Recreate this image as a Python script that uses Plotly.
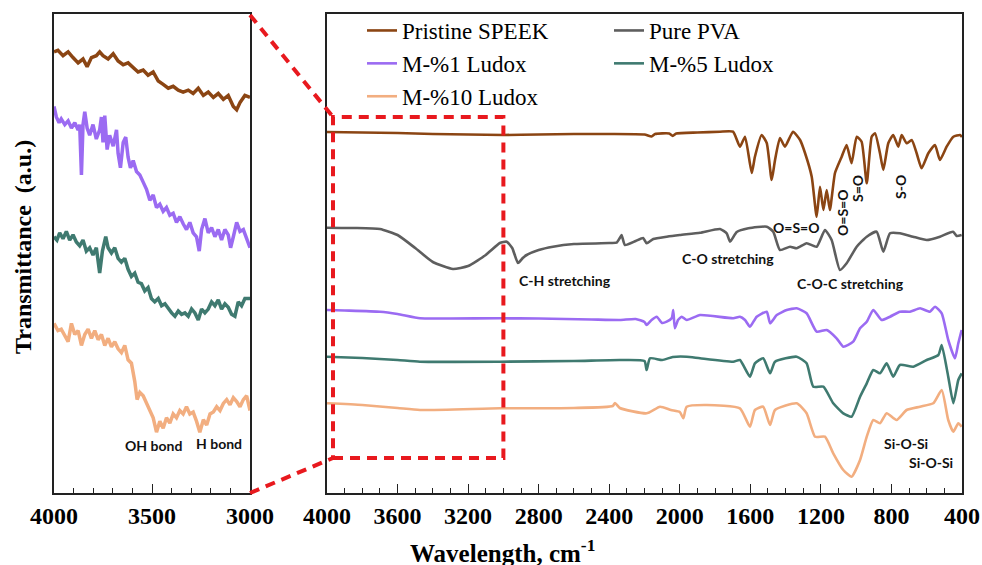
import plotly.graph_objects as go

# ---------------- data: full spectra (right panel), transmittance in a.u. ----------------
speek_wn = [4000, 3800, 3600, 3400, 3200, 3000, 2800, 2600, 2400, 2200, 2160, 2140, 2060, 2040, 2020, 1900,
            1772, 1698, 1659, 1630, 1592, 1574, 1536, 1507, 1479, 1460, 1432, 1404, 1358, 1318, 1290, 1252,
            1224, 1205, 1186, 1167, 1149, 1120, 1082, 1054, 1026, 997, 969, 940, 912, 893, 865, 846, 818,
            790, 761, 742, 714, 685, 657, 629, 591, 553, 525, 487, 449, 411, 400]
speek_t = [361, 360.5, 360, 359, 358.5, 358, 358.5, 359, 359, 358.5, 356.5, 359, 359.5, 357, 359.5, 360.5,
           361.3, 361.3, 346.3, 356.3, 320, 336.3, 358, 350, 313, 333, 355, 346.3, 361.3, 353, 340, 316.3,
           276.3, 306.3, 283, 303, 283, 320, 336.3, 348, 329.7, 356.3, 351.3, 309.7, 356.3, 359.7, 339.7, 323, 349.7,
           358, 346.3, 358, 349.7, 353, 339.7, 324.7, 339.7, 348, 333, 346.3, 356.3, 358, 356]

pva_wn = [4000, 3850, 3700, 3600, 3500, 3400, 3286, 3200, 3100, 3020, 2981, 2950, 2917, 2890, 2868, 2800,
          2719, 2600, 2400, 2358, 2340, 2330, 2311, 2250, 2208, 2188, 2150, 2074, 2000, 1885, 1772, 1734,
          1715, 1677, 1611, 1507, 1470, 1432, 1375, 1337, 1281, 1224, 1177, 1139, 1092, 1054, 997, 940,
          884, 846, 808, 752, 678, 600, 525, 451, 430, 402]
pva_t = [265.3, 265, 264, 258, 245, 231, 224, 227, 238, 250, 251.3, 245, 230, 235, 238, 243,
         246.3, 249, 250, 250.3, 255, 258, 248, 252, 255, 249.7, 254, 256.3, 258, 260.3, 264, 259.7,
         251.3, 261, 264.7, 266.3, 261.3, 243, 246.3, 244.7, 249.7, 246.3, 263, 253, 223, 229.7, 246.3, 256.3,
         261.3, 241.3, 259.7, 259.7, 256.3, 253, 256.3, 261.3, 257, 258]

m1_wn = [4000, 3900, 3700, 3600, 3473, 3300, 3020, 2800, 2500, 2339, 2250, 2200, 2188, 2160, 2131, 2100,
         2074, 2045, 2037, 2028, 2010, 1989, 1960, 1885, 1697, 1659, 1630, 1602, 1564, 1507, 1488, 1450,
         1394, 1337, 1281, 1224, 1167, 1111, 1073, 1017, 978, 940, 903, 856, 808, 752, 695, 638, 582,
         553, 515, 478, 440, 421, 402]
m1_t = [183, 182.5, 181.3, 179, 174.7, 174.5, 174.7, 174.5, 173.5, 173, 174, 171, 168, 173, 176.3, 170,
        171.3, 175, 183, 164.7, 173, 176.3, 173, 178, 174.7, 176.3, 173, 166.3, 176.3, 181.3, 169.7, 178,
        183, 184.7, 179.7, 161.3, 163, 154.7, 146.3, 151.3, 164.7, 171.3, 183, 173, 176.3, 181.3, 181.3, 184.7, 181.3,
        186.3, 179.7, 153, 134.7, 149.7, 163]

m5_wn = [4000, 3800, 3600, 3473, 3020, 2600, 2339, 2200, 2188, 2169, 2100, 2040, 1961, 1885, 1697, 1659,
         1602, 1574, 1527, 1488, 1460, 1337, 1281, 1243, 1186, 1130, 1073, 1026, 978, 940, 903, 865, 827,
         790, 752, 676, 600, 534, 515, 478, 449, 421, 402]
m5_t = [136.3, 135, 133, 131.3, 131.3, 132, 133, 132, 123, 134.7, 133, 136, 136.3, 134.7, 131.3, 133,
        116.3, 129.7, 134.7, 119.7, 131.3, 136.3, 129.7, 106.3, 106.3, 89.7, 79.7, 76.3, 96.3, 109.7, 123, 119.7, 129.7,
        116.3, 128, 126.3, 133, 138, 148, 116.3, 89.7, 113, 119.7]

m10_wn = [4000, 3800, 3600, 3473, 3020, 2600, 2380, 2367, 2340, 2188, 2112, 2050, 2000, 1980, 1961, 1847,
          1659, 1602, 1574, 1527, 1488, 1460, 1337, 1281, 1233, 1177, 1130, 1073, 1026, 978, 940, 903,
          865, 827, 771, 714, 638, 563, 515, 478, 449, 421, 402]
m10_t = [89.7, 88, 85, 83, 84.7, 85, 87, 90, 85, 79.7, 86.3, 83, 81, 74.7, 86.3, 88,
         84.7, 66.3, 83, 86.3, 68, 83, 89.7, 79.7, 56.3, 56.3, 39.7, 23, 16.3, 33, 56.3, 73,
         69.7, 79.7, 73, 83, 86.3, 89.7, 103, 73, 61.3, 69.7, 66.3]

# ---------------- data: magnified 4000-3000 region (left panel), a.u. ----------------
z_speek_wn = [4000, 3980, 3954, 3928, 3903, 3877, 3852, 3831, 3809, 3784, 3767, 3750, 3724, 3698, 3673, 3647,
              3622, 3596, 3571, 3545, 3520, 3494, 3468, 3443, 3417, 3392, 3366, 3341, 3315, 3290, 3264, 3238,
              3213, 3187, 3162, 3136, 3111, 3085, 3068, 3051, 3026, 3000]
z_speek_t = [92.1, 92.4, 91.3, 92.1, 90.9, 89.8, 90.6, 89.0, 90.9, 91.3, 92.1, 91.3, 90.6, 91.7, 90.2, 89.4,
             89.8, 88.7, 87.9, 88.3, 87.2, 87.9, 86.0, 85.3, 84.5, 84.9, 84.1, 83.7, 84.1, 83.4, 84.5, 83.0,
             83.7, 82.6, 83.4, 82.2, 83.0, 80.7, 80.0, 81.5, 83.0, 82.6]

z_m1_wn = [4000, 3988, 3974, 3963, 3945, 3928, 3911, 3894, 3877, 3869, 3860, 3852, 3843, 3831, 3818, 3801,
           3784, 3767, 3758, 3750, 3741, 3729, 3716, 3698, 3681, 3673, 3661, 3647, 3634, 3622, 3610, 3596,
           3579, 3562, 3545, 3528, 3511, 3494, 3477, 3460, 3443, 3426, 3409, 3392, 3375, 3358, 3341, 3324,
           3307, 3290, 3273, 3259, 3247, 3230, 3213, 3196, 3179, 3162, 3145, 3128, 3111, 3099, 3085, 3068,
           3051, 3034, 3017, 3000]
z_m1_t = [80.7, 78.5, 77.3, 78.1, 76.9, 77.7, 76.2, 77.3, 75.8, 76.9, 66.4, 76.9, 79.6, 76.2, 74.7, 76.9,
          73.9, 75.8, 78.5, 73.2, 78.8, 71.7, 74.7, 72.4, 75.8, 70.9, 67.9, 73.2, 74.3, 70.1, 67.9, 69.4,
          67.1, 66.4, 64.9, 63.4, 61.1, 62.2, 59.6, 60.3, 58.8, 59.6, 58.0, 58.4, 56.5, 57.7, 56.2, 55.0,
          56.5, 54.3, 53.5, 50.5, 55.0, 57.3, 54.3, 55.4, 53.5, 55.0, 52.8, 55.0, 53.9, 51.2, 53.5, 56.5,
          54.6, 55.0, 53.1, 51.2]

z_m5_wn = [4000, 3985, 3971, 3954, 3937, 3920, 3903, 3886, 3869, 3852, 3835, 3818, 3801, 3784, 3767, 3753,
           3736, 3724, 3707, 3690, 3673, 3656, 3639, 3622, 3605, 3588, 3571, 3554, 3537, 3520, 3503, 3486,
           3468, 3451, 3434, 3417, 3400, 3383, 3366, 3349, 3332, 3315, 3298, 3281, 3264, 3247, 3230, 3213,
           3196, 3179, 3162, 3145, 3128, 3111, 3094, 3077, 3060, 3043, 3026, 3000]
z_m5_t = [53.5, 52.8, 54.3, 53.1, 54.6, 52.8, 53.9, 52.4, 51.6, 52.8, 50.5, 51.2, 49.7, 51.2, 45.9, 50.5,
          53.5, 51.2, 50.1, 51.2, 49.0, 48.2, 49.0, 46.7, 45.2, 45.9, 44.0, 43.7, 42.2, 42.9, 40.6, 39.9,
          40.6, 39.1, 39.5, 38.4, 37.6, 36.9, 38.0, 37.3, 37.6, 36.9, 38.4, 37.6, 36.1, 38.4, 37.6, 38.4,
          39.9, 39.1, 40.3, 38.4, 39.5, 38.8, 37.3, 36.9, 39.9, 39.1, 40.6, 40.6]

z_m10_wn = [4000, 3980, 3963, 3945, 3928, 3911, 3894, 3877, 3860, 3843, 3826, 3809, 3792, 3775, 3758, 3741,
            3724, 3707, 3690, 3673, 3656, 3639, 3622, 3605, 3588, 3576, 3562, 3545, 3528, 3511, 3494, 3477,
            3460, 3443, 3426, 3409, 3392, 3375, 3358, 3341, 3324, 3307, 3290, 3273, 3256, 3238, 3221, 3204,
            3187, 3170, 3153, 3136, 3119, 3102, 3085, 3068, 3051, 3034, 3017, 3000]
z_m10_t = [35.4, 33.9, 34.2, 32.7, 31.6, 35.4, 33.1, 33.9, 30.8, 33.1, 34.2, 32.3, 33.9, 32.0, 33.1, 30.8,
           32.3, 30.5, 31.6, 30.1, 29.3, 30.8, 27.8, 27.1, 23.3, 19.5, 21.0, 20.3, 18.7, 17.2, 15.7, 12.7,
           15.0, 13.5, 15.7, 14.6, 16.5, 15.7, 17.2, 16.5, 18.0, 16.5, 16.9, 15.0, 12.7, 15.3, 14.2, 16.5,
           16.9, 18.0, 17.2, 18.7, 19.5, 18.4, 19.9, 19.1, 18.0, 19.5, 20.3, 17.2]

series_names = ["Pristine SPEEK", "Pure PVA", "M-%1 Ludox", "M-%5 Ludox", "M-%10 Ludox"]
colors = ["#8B4513", "#5E5E5E", "#9B6BF2", "#3F7A70", "#F2AE80"]
legend_ids = ["legend", "legend2", "legend", "legend2", "legend"]

W, H = 982, 565
def px(x):
    return x / W
def py(y):
    return 1 - y / H

fig = go.Figure()

right = [(speek_wn, speek_t), (pva_wn, pva_t), (m1_wn, m1_t), (m5_wn, m5_t), (m10_wn, m10_t)]
for (wn, t), name, c, lg in zip(right, series_names, colors, legend_ids):
    fig.add_trace(go.Scatter(x=wn, y=t, mode="lines", name=name,
                             line=dict(color=c, width=2.6, shape="spline", smoothing=0.5),
                             xaxis="x2", yaxis="y2", legend=lg))

left = [(z_speek_wn, z_speek_t, 0), (z_m1_wn, z_m1_t, 2), (z_m5_wn, z_m5_t, 3), (z_m10_wn, z_m10_t, 4)]
for wn, t, i in left:
    fig.add_trace(go.Scatter(x=wn, y=t, mode="lines", showlegend=False, line=dict(color=colors[i], width=3.5),
                             xaxis="x", yaxis="y"))

ydom = [py(493), py(14)]
tickfont = dict(family="Liberation Serif", size=24, color="black", weight="bold")
axline = dict(showline=True, mirror=True, linecolor="#222", linewidth=1.6, showgrid=False, zeroline=False,
              automargin=False)
legfont = dict(family="Liberation Serif", size=23, color="black")

fig.update_layout(
    width=W, height=H, margin=dict(l=0, r=0, t=0, b=0, autoexpand=False),
    paper_bgcolor="white", plot_bgcolor="white",
    xaxis=dict(domain=[px(54), px(250)], range=[4000, 3000], anchor="y", tickmode="linear", tick0=3000, dtick=500,
               ticks="inside", ticklen=9, tickcolor="#222", tickwidth=1.4, tickfont=tickfont,
               minor=dict(dtick=100, tick0=3000, ticks="inside", ticklen=5, tickcolor="#222", tickwidth=1.2), **axline),
    yaxis=dict(domain=ydom, range=[0, 100], anchor="x", showticklabels=False, ticks="", **axline),
    xaxis2=dict(domain=[px(327), px(962)], range=[4000, 400], anchor="y2", tickmode="linear", tick0=400, dtick=400,
                ticks="inside", ticklen=9, tickcolor="#222", tickwidth=1.4, tickfont=tickfont,
                minor=dict(dtick=100, tick0=400, ticks="inside", ticklen=5, tickcolor="#222", tickwidth=1.2), **axline),
    yaxis2=dict(domain=ydom, range=[0, 479], anchor="x2", showticklabels=False, ticks="", **axline),
    legend=dict(x=px(362), y=py(9), xanchor="left", yanchor="top", orientation="v", tracegroupgap=0,
                bgcolor="rgba(0,0,0,0)", font=legfont, itemwidth=30),
    legend2=dict(x=px(609), y=py(9), xanchor="left", yanchor="top", orientation="v", tracegroupgap=0,
                 bgcolor="rgba(0,0,0,0)", font=legfont, itemwidth=30),
)

red = "#E8191E"
fig.add_shape(type="rect", xref="x2", yref="y2", x0=3966, x1=3000, y0=35, y1=376,
              line=dict(color=red, width=4, dash="10px,7px"))
fig.add_shape(type="line", xref="paper", yref="paper", x0=px(250), y0=py(15), x1=px(333), y1=py(117),
              line=dict(color=red, width=4, dash="10px,7px"))
fig.add_shape(type="line", xref="paper", yref="paper", x0=px(250), y0=py(493), x1=px(333), y1=py(458),
              line=dict(color=red, width=4, dash="10px,7px"))

afont = dict(family="Lato", size=14, color="#111", weight="bold")
labels = [
    ("C-H stretching", 565, 280, 0),
    ("C-O stretching", 728, 258, 0),
    ("C-O-C stretching", 850, 283, 0),
    ("O=S=O", 796, 227, 0),
    ("O=S=O", 842, 213, -90),
    ("S=O", 857, 189, -90),
    ("S-O", 900, 187, -90),
    ("Si-O-Si", 906, 443, 0),
    ("Si-O-Si", 931, 462, 0),
    ("OH bond", 153, 445, 0),
    ("H bond", 219, 443, 0),
]
for text, x, y, ang in labels:
    fig.add_annotation(text=text, x=px(x), y=py(y), xref="paper", yref="paper", showarrow=False,
                       textangle=ang, font=afont, xanchor="center", yanchor="middle")

fig.add_annotation(text="Transmittance  (a.u.)", x=px(23), y=py(247), xref="paper", yref="paper",
                   showarrow=False, textangle=-90, xanchor="center", yanchor="middle",
                   font=dict(family="Liberation Serif", size=24, color="black", weight="bold"))
fig.add_annotation(text="Wavelength, cm<sup>-1</sup>", x=px(502), y=py(551), xref="paper", yref="paper",
                   showarrow=False, xanchor="center", yanchor="middle",
                   font=dict(family="Liberation Serif", size=25, color="black", weight="bold"))

fig.write_html("out.html")
